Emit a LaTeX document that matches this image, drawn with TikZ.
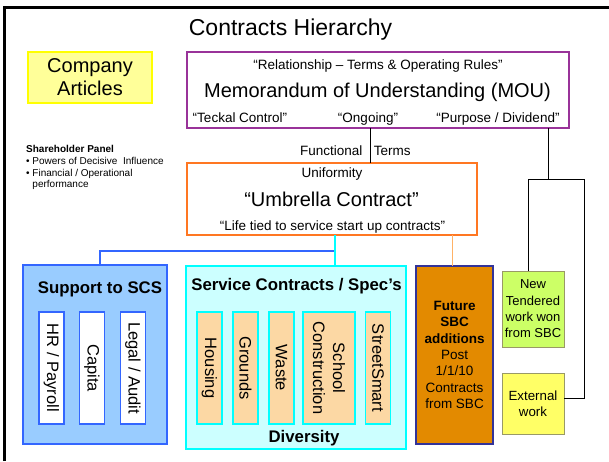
\documentclass[tikz,border=0pt]{standalone}
\usepackage{fontspec}
\setmainfont{Liberation Sans}
\newcommand\myfs[2]{\fontsize{#1}{#2}\selectfont}
\definecolor{yellowF}{HTML}{FFFF99}
\definecolor{yellowB}{HTML}{FFFF00}
\definecolor{purp}{HTML}{993399}
\definecolor{orng}{HTML}{FF7722}
\definecolor{blueF}{HTML}{99CCFF}
\definecolor{blueB}{HTML}{3366FF}
\definecolor{cyanF}{HTML}{CCFFFF}
\definecolor{cyanB}{HTML}{00FFFF}
\definecolor{peach}{HTML}{FCD8A4}
\definecolor{forange}{HTML}{E38A00}
\definecolor{fblue}{HTML}{333399}
\definecolor{lgreen}{HTML}{CCFF66}
\definecolor{lyel}{HTML}{FFFF66}
\definecolor{oliveB}{HTML}{999966}
\definecolor{lorange}{HTML}{FFB266}
\begin{document}
\begin{tikzpicture}[x=1pt,y=-1pt,
  box/.style={draw, inner sep=0pt, outer sep=0pt, anchor=north west, align=center},
  vbox/.style={draw, inner sep=0pt, outer sep=0pt, rotate=-90, minimum width=112pt, minimum height=25pt, align=center, font=\myfs{16.5}{20}},
  supin/.style={vbox, draw=blueB, fill=white, line width=1.2pt},
  svcin/.style={vbox, draw=cyanB, fill=peach, line width=1.2pt},
  lbl/.style={anchor=base, inner sep=0pt},
  small/.style={lbl, font=\myfs{13.5}{16}},
  big/.style={lbl, font=\myfs{20}{24}},
  bold/.style={lbl, font=\bfseries\myfs{16.8}{20}},
  conn/.style={draw=black, line width=1pt},
]
\useasboundingbox (0,0) rectangle (609,461);
% frame
\draw[line width=2.5pt] (4.5,461) -- (4.5,7.5) -- (609,7.5);

% title
\node[lbl, font=\myfs{23}{28}] (title) at (290.5,35) {Contracts Hierarchy};

% company articles
\node[box, draw=yellowB, fill=yellowF, line width=2pt, minimum width=124pt, minimum height=51pt, font=\myfs{20}{23}] (comp) at (28,52) {Company\\Articles};

% MOU
\node[box, draw=purp, line width=1.8pt, minimum width=382pt, minimum height=76pt] (mou) at (187,52) {};
\node[small] (rel) at (378,69.3) {“Relationship – Terms \& Operating Rules”};
\node[big] (moutxt) at (377.5,97.3) {Memorandum of Understanding (MOU)};
\node[small] (teck) at (240,122) {“Teckal Control”};
\node[small] (ong) at (368,122) {“Ongoing”};
\node[small] (purpose) at (498,122) {“Purpose / Dividend”};

% functional terms
\node[small] (func) at (331.3,155.3) {Functional};
\node[small] (terms) at (392.2,155.3) {Terms};

% umbrella
\node[box, draw=orng, line width=2pt, minimum width=290pt, minimum height=72pt] (umb) at (187,163) {};
\node[small] (unif) at (332,177.3) {Uniformity};
\node[big] (umbt) at (331.5,206.7) {“Umbrella Contract”};
\node[small] (life) at (332.5,230) {“Life tied to service start up contracts”};

% shareholder panel
\node[anchor=north west, inner sep=0pt, align=left, font=\myfs{10}{11.8}] (sh) at (26,145)
  {\textbf{Shareholder Panel}\\•\ Powers of Decisive\ \ Influence\\•\ Financial / Operational\\\hphantom{•\ }performance};

% support to SCS
\node[box, draw=blueB, fill=blueF, line width=1.5pt, minimum width=144pt, minimum height=179pt] (sup) at (23,265) {};
\node[bold] (supt) at (100,293.3) {Support to SCS};
\node[supin] (hr) at (51.5,368) {HR / Payroll};
\node[supin] (capita) at (92,368) {Capita};
\node[supin] (legal) at (133,368) {Legal / Audit};

% service contracts
\node[box, draw=cyanB, fill=cyanF, line width=2.2pt, minimum width=220pt, minimum height=183pt] (svc) at (186,266) {};
\node[bold] (svct) at (296.5,290) {Service Contracts / Spec’s};
\node[bold] (div) at (304,442.3) {Diversity};
\node[svcin] (housing) at (209.5,368) {Housing};
\node[svcin] (grounds) at (245.5,368) {Grounds};
\node[svcin] (waste) at (281.5,368) {Waste};
\node[svcin, minimum height=52pt] (school) at (329,368) {School\\Construction};
\node[svcin] (street) at (378,368) {StreetSmart};

% future
\node[box, draw=fblue, fill=forange, line width=1.5pt, minimum width=77pt, minimum height=178pt, font=\myfs{13.5}{16.3}] (fut) at (416,266)
  {\textbf{Future}\\\textbf{SBC}\\\textbf{additions}\\Post\\1/1/10\\Contracts\\from SBC};

% new tendered / external
\node[box, draw=oliveB, fill=lgreen, line width=1pt, minimum width=62pt, minimum height=76pt, font=\myfs{13}{16.3}] (newt) at (502,271) {New\\Tendered\\work won\\from SBC};
\node[box, draw=oliveB, fill=lyel, line width=1pt, minimum width=62pt, minimum height=61pt, font=\myfs{13.3}{16.3}] (ext) at (502,373) {External\\work};

% connectors
\coordinate (xo) at (370,140);
\draw[conn] (mou.south -| xo) -- (umb.north -| xo);

\coordinate (jn) at (548,179);
\coordinate (jl) at (528,179);
\coordinate (jr) at (584,179);
\coordinate (ey) at (584,398);
\draw[conn] (mou.south -| jn) -- (jn);
\draw[conn] (newt.north -| jl) -- (jl) -- (jr) -- (ey) -- (ext.east |- ey);

\coordinate (cx) at (335,251);
\coordinate (bx) at (100,251);
\draw[draw=blueB, line width=2pt] (cx) -- (bx) -- (sup.north -| bx);
\draw[draw=cyanB, line width=2pt] (umb.south -| cx) -- (svc.north -| cx);

\coordinate (ox) at (452,250);
\draw[draw=lorange, line width=0.8pt] (umb.south -| ox) -- (fut.north -| ox);
\end{tikzpicture}
\end{document}
